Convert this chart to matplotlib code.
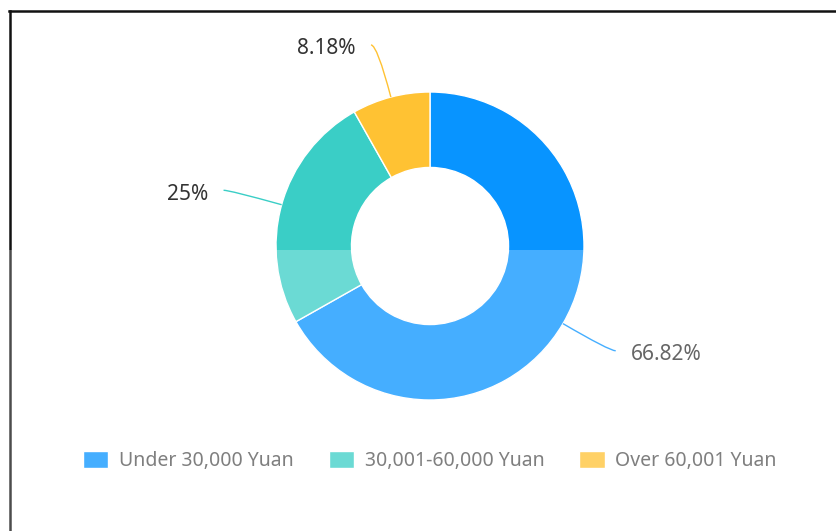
import matplotlib
matplotlib.use("Agg")
import matplotlib.pyplot as plt
import numpy as np
from matplotlib.path import Path
from matplotlib.patches import PathPatch, Rectangle
from matplotlib.lines import Line2D

# Income groups and their share of respondents (%)
categories = ["Under 30,000 Yuan", "30,001-60,000 Yuan", "Over 60,001 Yuan"]
shares = [66.82, 25, 8.18]
colors = ["#0894FF", "#3ACEC6", "#FFC233"]

plt.rcParams["font.family"] = ["Noto Sans", "DejaVu Sans"]

W, H = 836, 531
fig = plt.figure(figsize=(W / 100, H / 100), dpi=100)
ax = fig.add_axes([0, 0, 1, 1])

# donut centre and outer radius in pixels
cx, cy, R = 430, 246, 154

wedges, _ = ax.pie(
    shares,
    colors=colors,
    startangle=90,
    counterclock=False,
    radius=1,
    wedgeprops=dict(width=0.49, edgecolor="white", linewidth=1),
)
ax.set_aspect("auto")
ax.set_xlim(-cx / R, (W - cx) / R)
ax.set_ylim(-(H - cy) / R, cy / R)
ax.axis("off")

# leader lines and percentage labels
for w, v, c in zip(wedges, shares, colors):
    theta = np.deg2rad((w.theta1 + w.theta2) / 2)
    ux, uy = np.cos(theta), np.sin(theta)
    side = 1 if ux > 0 else -1
    start = (ux, uy)
    knee = (1.35 * ux, 1.35 * uy)
    end = (knee[0] + side * 0.04, knee[1])
    path = Path([start, knee, end], [Path.MOVETO, Path.CURVE3, Path.CURVE3])
    ax.add_patch(PathPatch(path, facecolor="none", edgecolor=c, lw=1.0))
    ax.text(
        end[0] + side * 15 / R,
        end[1] - 4 / R,
        f"{v:g}%",
        ha="left" if side > 0 else "right",
        va="center",
        fontsize=15,
        color="#333333",
    )

ax.legend(
    wedges,
    categories,
    loc="center",
    bbox_to_anchor=(430 / W, 1 - 461 / H),
    bbox_transform=fig.transFigure,
    ncol=3,
    frameon=False,
    fontsize=14,
    handlelength=1.3,
    handleheight=0.93,
    handletextpad=0.55,
    columnspacing=1.8,
    labelcolor="#555555",
)

# panel frame (top and left edges)
fig.add_artist(Line2D([8.5 / W, 1], [1 - 11 / H, 1 - 11 / H], transform=fig.transFigure,
                      color="#111111", lw=1.8, zorder=3))
fig.add_artist(Line2D([9.5 / W, 9.5 / W], [0, 1 - 11 / H], transform=fig.transFigure,
                      color="#111111", lw=1.8, zorder=3))

# lighter lower half of the panel
fig.add_artist(Rectangle((0, 0), 1, (H - 250) / H, transform=fig.transFigure,
                         facecolor="white", edgecolor="none", alpha=0.25, zorder=5))

fig.savefig("out.png", dpi=100)
